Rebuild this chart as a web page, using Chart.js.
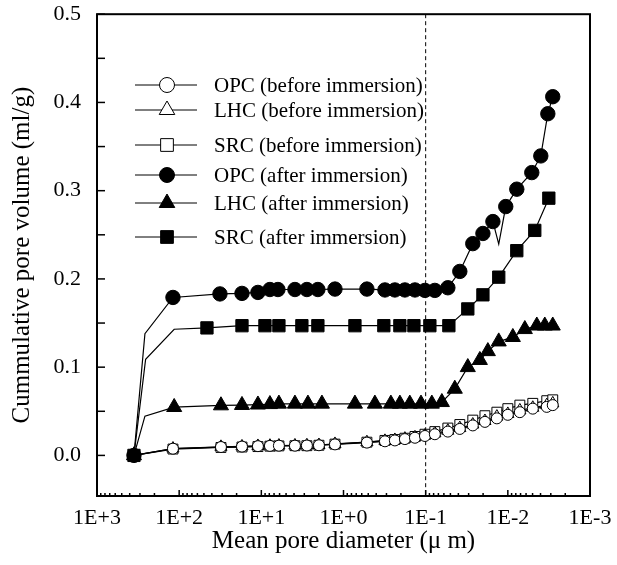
<!DOCTYPE html>
<html><head><meta charset="utf-8">
<script src="https://cdn.jsdelivr.net/npm/chart.js@4.4.0/dist/chart.umd.min.js"></script>
<style>html,body{margin:0;padding:0;background:#fff}</style>
</head><body>
<canvas id="c" width="617" height="565"></canvas>
<script>
// ---- data (diameter in µm, cumulative pore volume in ml/g) ----
const seriesNames = ['OPC (before immersion)','LHC (before immersion)','SRC (before immersion)',
                     'OPC (after immersion)','LHC (after immersion)','SRC (after immersion)'];

const beforeD = [355, 119, 31.0, 17.2, 11.0, 7.86, 6.11, 3.90, 2.79, 1.99, 1.27, 0.519, 0.313, 0.237, 0.179, 0.135, 0.102, 0.0773, 0.0537, 0.0384, 0.0267, 0.0190, 0.0136, 0.0100, 0.00714, 0.00497, 0.00336, 0.00284];
const opcBeforeV = [0, 0.0076, 0.0095, 0.010, 0.0105, 0.0108, 0.011, 0.011, 0.0112, 0.0115, 0.0125, 0.0145, 0.016, 0.017, 0.0185, 0.020, 0.022, 0.024, 0.027, 0.030, 0.034, 0.038, 0.042, 0.046, 0.049, 0.053, 0.055, 0.057];
const lhcBeforeV = [0, 0.0078, 0.0097, 0.0102, 0.0107, 0.011, 0.0112, 0.0113, 0.0115, 0.0118, 0.013, 0.015, 0.0165, 0.0175, 0.019, 0.0205, 0.0225, 0.025, 0.028, 0.031, 0.035, 0.039, 0.044, 0.047, 0.051, 0.054, 0.057, 0.059];
const srcBeforeV = [0, 0.0072, 0.009, 0.0095, 0.010, 0.0105, 0.0108, 0.011, 0.011, 0.0115, 0.0128, 0.015, 0.017, 0.018, 0.0195, 0.0215, 0.024, 0.027, 0.031, 0.035, 0.040, 0.045, 0.049, 0.053, 0.057, 0.059, 0.062, 0.063];

const opcAfterD = [355, 261, 119, 31.9, 17.2, 11.0, 7.86, 6.28, 3.90, 2.79, 2.05, 1.27, 0.519, 0.313, 0.237, 0.179, 0.135, 0.102, 0.0773, 0.0537, 0.0384, 0.0267, 0.0201, 0.0152, 0.0129, 0.0106, 0.00778, 0.00511, 0.00397, 0.00326, 0.00284];
const opcAfterV = [0, 0.138, 0.179, 0.183, 0.1836, 0.1847, 0.188, 0.188, 0.188, 0.188, 0.188, 0.1885, 0.1885, 0.1875, 0.1875, 0.1875, 0.1875, 0.187, 0.187, 0.190, 0.2085, 0.240, 0.2515, 0.265, 0.2395, 0.282, 0.3017, 0.3205, 0.3394, 0.3872, 0.4065];
const opcAfterNoMarker = [1, 24];

const lhcAfterD = [355, 261, 115, 31.0, 17.2, 11.0, 7.86, 6.11, 3.90, 2.71, 1.83, 0.726, 0.415, 0.265, 0.206, 0.156, 0.114, 0.0841, 0.0635, 0.0442, 0.0307, 0.0219, 0.0175, 0.0129, 0.00869, 0.00621, 0.00444, 0.00355, 0.00284];
const lhcAfterV = [0, 0.0445, 0.0547, 0.0566, 0.057, 0.0575, 0.058, 0.0585, 0.0585, 0.0585, 0.0585, 0.0585, 0.0585, 0.0585, 0.0585, 0.0585, 0.0585, 0.0585, 0.0603, 0.0754, 0.0999, 0.108, 0.118, 0.129, 0.134, 0.143, 0.147, 0.147, 0.147];
const lhcAfterNoMarker = [1];

const srcAfterD = [355, 256, 115, 45.9, 17.2, 9.04, 6.11, 3.21, 2.05, 0.726, 0.323, 0.206, 0.139, 0.0889, 0.0522, 0.0307, 0.0201, 0.0129, 0.00778, 0.0047, 0.00317];
const srcAfterV = [0, 0.109, 0.143, 0.1445, 0.147, 0.147, 0.147, 0.147, 0.147, 0.147, 0.147, 0.147, 0.147, 0.147, 0.147, 0.166, 0.182, 0.202, 0.232, 0.255, 0.2915];
const srcAfterNoMarker = [1, 2];

const xTickValues = [1000, 100, 10, 1, 0.1, 0.01, 0.001];
const xTickLabels = ['1E+3', '1E+2', '1E+1', '1E+0', '1E-1', '1E-2', '1E-3'];
const yTickValues = [0, 0.05, 0.1, 0.15, 0.2, 0.25, 0.3, 0.35, 0.4, 0.45, 0.5];
const yTickLabels = ['0.0', '', '0.1', '', '0.2', '', '0.3', '', '0.4', '', '0.5'];
const dashedLineAt = 0.1;

// ---- build ----
const pts = (d, v) => d.map((x, i) => ({x: x, y: v[i]}));
const FONT = 'Liberation Serif';

function mk(label, d, v, style, radius, filled, noMarker, order) {
  return {
    label, data: pts(d, v), order,
    borderColor: '#000', borderWidth: 1.2, tension: 0,
    pointStyle: style,
    pointRadius: c => (noMarker && noMarker.includes(c.dataIndex)) ? 0 : radius,
    pointBackgroundColor: filled ? '#000' : '#fff',
    pointBorderColor: '#000', pointBorderWidth: 1,
    _legend: {style, filled}
  };
}

const datasets = [
  mk(seriesNames[0], beforeD, opcBeforeV, 'circle', 5.5, false, null, 1),
  mk(seriesNames[1], beforeD, lhcBeforeV, 'triangle', 7, false, null, 1),
  mk(seriesNames[2], beforeD, srcBeforeV, 'rect', 7, false, null, 1),
  mk(seriesNames[3], opcAfterD, opcAfterV, 'circle', 7.2, true, opcAfterNoMarker, 0),
  mk(seriesNames[4], lhcAfterD, lhcAfterV, 'triangle', 8.7, true, lhcAfterNoMarker, 0),
  mk(seriesNames[5], srcAfterD, srcAfterV, 'rect', 8.7, true, srcAfterNoMarker, 0)
];

function drawMarker(ctx, style, x, y, r, filled) {
  ctx.beginPath();
  if (style === 'circle') ctx.arc(x, y, r, 0, Math.PI * 2);
  else if (style === 'triangle') {
    ctx.moveTo(x, y - r);
    ctx.lineTo(x + r * 0.866, y + r / 2);
    ctx.lineTo(x - r * 0.866, y + r / 2);
    ctx.closePath();
  } else {
    const s = r * Math.SQRT1_2;
    ctx.rect(x - s, y - s, 2 * s, 2 * s);
  }
  ctx.fillStyle = filled ? '#000' : '#fff';
  ctx.fill();
  ctx.lineWidth = 1; ctx.strokeStyle = '#000';
  ctx.stroke();
}

const framePlugin = {
  id: 'frame',
  beforeDatasetsDraw(chart) {
    const {ctx, chartArea: a, scales: {x, y}} = chart;
    ctx.save();
    ctx.strokeStyle = '#000';
    const xd = x.getPixelForValue(dashedLineAt);
    ctx.lineWidth = 1; ctx.setLineDash([4, 3]);
    ctx.beginPath(); ctx.moveTo(xd, a.top); ctx.lineTo(xd, a.bottom); ctx.stroke();
    ctx.setLineDash([]);
    ctx.lineWidth = 1.5;
    y.ticks.forEach(t => {
      const py = y.getPixelForValue(t.value);
      ctx.beginPath(); ctx.moveTo(a.left, py); ctx.lineTo(a.left + 8, py); ctx.stroke();
    });
    xTickValues.forEach((v, i) => {
      const px = x.getPixelForValue(v);
      ctx.beginPath(); ctx.moveTo(px, a.bottom); ctx.lineTo(px, a.bottom - 6); ctx.stroke();
      if (i > 0) {
        for (let k = 2; k <= 9; k++) {
          const pm = x.getPixelForValue(v * k);
          ctx.beginPath(); ctx.moveTo(pm, a.bottom); ctx.lineTo(pm, a.bottom - 3); ctx.stroke();
        }
      }
    });
    ctx.lineWidth = 2;
    ctx.strokeRect(a.left, a.top, a.right - a.left, a.bottom - a.top);
    ctx.restore();
  }
};

const legendPlugin = {
  id: 'innerLegend',
  afterDraw(chart) {
    const {ctx} = chart;
    const rows = [85, 110, 145, 175, 203, 237];
    ctx.save();
    ctx.font = '21px "' + FONT + '"';
    ctx.textBaseline = 'middle';
    ctx.textAlign = 'left';
    chart.data.datasets.forEach((ds, i) => {
      const yy = rows[i];
      ctx.strokeStyle = '#000'; ctx.lineWidth = 1;
      ctx.beginPath(); ctx.moveTo(135, yy); ctx.lineTo(197, yy); ctx.stroke();
      const st = ds._legend.style;
      const r = st === 'circle' ? 7.5 : 9;
      drawMarker(ctx, st, 167, yy, r, ds._legend.filled);
      ctx.fillStyle = '#000';
      ctx.fillText(ds.label, 214, yy + 1);
    });
    ctx.restore();
  }
};

new Chart(document.getElementById('c'), {
  type: 'line',
  data: {datasets},
  options: {
    responsive: false, animation: false, events: [],
    layout: {padding: {top: 0, right: 27, bottom: 0, left: 0}},
    plugins: {legend: {display: false}, tooltip: {enabled: false}},
    scales: {
      x: {
        type: 'logarithmic', reverse: true, min: 0.001, max: 1000,
        afterBuildTicks: s => { s.ticks = xTickValues.map(v => ({value: v, major: false})); },
        afterFit: s => { s.height = 69; },
        grid: {display: false, drawTicks: true, tickLength: 9},
        border: {display: false},
        ticks: {autoSkip: false, maxRotation: 0, color: '#000', padding: 0,
                font: {family: FONT, size: 22},
                callback: (v, i) => xTickLabels[i]},
        title: {display: true, text: 'Mean pore diameter (\u03bc m)', color: '#000',
                font: {family: FONT, size: 25}, padding: {top: 0, bottom: 9}}
      },
      y: {
        min: -0.046, max: 0.5,
        afterBuildTicks: s => { s.ticks = yTickValues.map(v => ({value: v})); },
        afterFit: s => { s.width = 97; },
        grid: {display: false, drawTicks: true, tickLength: 15},
        border: {display: false},
        ticks: {autoSkip: false, color: '#000', padding: 1,
                font: {family: FONT, size: 22},
                callback: (v, i) => yTickLabels[i]},
        title: {display: true, text: 'Cummulative pore volume (ml/g)', color: '#000',
                font: {family: FONT, size: 25}, padding: {top: 7, bottom: 0}}
      }
    }
  },
  plugins: [framePlugin, legendPlugin]
});
</script>
</body></html>
